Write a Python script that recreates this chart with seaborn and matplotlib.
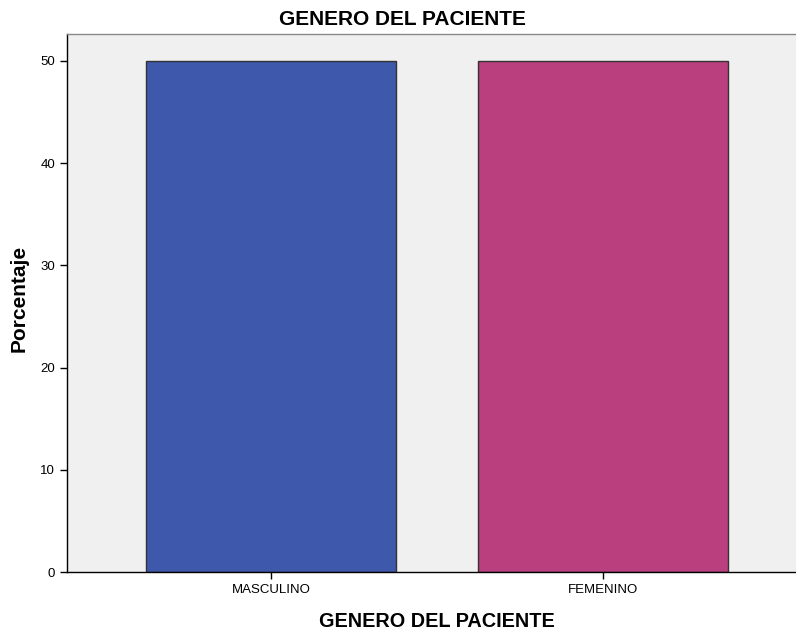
import pandas as pd
import matplotlib.pyplot as plt
import seaborn as sns

# datos del grafico
generos = ['MASCULINO', 'FEMENINO']
porcentajes = [50.0, 50.0]
colores = ['#3E58AC', '#BA3F7E']

sns.set_style('white')
plt.rcParams['font.family'] = ['Liberation Sans', 'DejaVu Sans']
plt.rcParams['text.color'] = 'black'
plt.rcParams['axes.labelcolor'] = 'black'
plt.rcParams['xtick.color'] = 'black'
plt.rcParams['ytick.color'] = 'black'

df = pd.DataFrame({'genero': generos, 'porcentaje': porcentajes})

fig = plt.figure(figsize=(7.96, 6.35), dpi=100)
ax = fig.add_axes([0.0842, 0.0992, 0.9158, 0.8473])
ax.set_facecolor('#F0F0F0')

sns.barplot(data=df, x='genero', y='porcentaje', hue='genero', palette=colores,
            width=0.753, edgecolor='#333333', linewidth=1.0, legend=False,
            saturation=1, ax=ax)

ax.set_xlim(-0.614, 1.58)
ax.set_ylim(0, 52.64)
ax.set_yticks([0, 10, 20, 30, 40, 50])

# titulo centrado en la figura (como SPSS)
fig.text(0.505, 1 - 25 / 635, 'GENERO DEL PACIENTE', fontsize=15, fontweight='bold',
         ha='center', va='baseline')
ax.set_xlabel('GENERO DEL PACIENTE', fontsize=14.3, fontweight='bold')
ax.set_ylabel('Porcentaje', fontsize=15, fontweight='bold')
ax.xaxis.set_label_coords(0.5075, -0.075)
ax.yaxis.set_label_coords(-0.052, 0.508)

ax.tick_params(axis='both', which='major', direction='out', length=5, width=1,
               color='black', labelsize=9.5, bottom=True, left=True)

for side in ['left', 'bottom', 'top']:
    ax.spines[side].set_visible(True)
    ax.spines[side].set_color('black')
    ax.spines[side].set_linewidth(1.0)
ax.spines['top'].set_color('#888888')
ax.spines['right'].set_visible(False)

plt.savefig('out.png', dpi=100)
plt.close()
